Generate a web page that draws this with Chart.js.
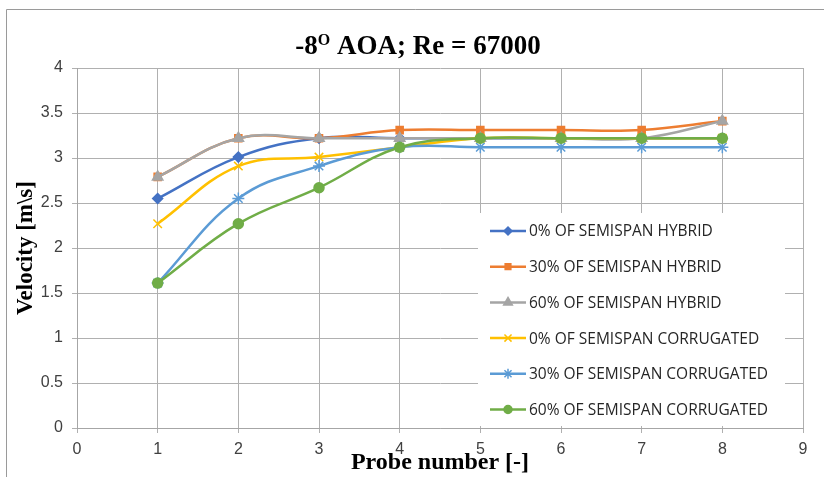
<!DOCTYPE html>
<html>
<head>
<meta charset="utf-8">
<script src="https://cdn.jsdelivr.net/npm/chart.js@4/dist/chart.umd.min.js"></script>
<style>
  html, body { margin: 0; padding: 0; background: #fff; }
  #wrap { width: 824px; height: 477px; position: relative; }
</style>
</head>
<body>
<div id="wrap"><canvas id="velocity-chart"></canvas></div>
<script>
// probe positions along the span
const probes = [1, 2, 3, 4, 5, 6, 7, 8];

// velocity readings [m/s] per configuration
const hybrid0 = [2.55, 3.01, 3.22, 3.22, 3.22, 3.22, 3.22, 3.22];
const hybrid30 = [2.79, 3.22, 3.22, 3.31, 3.31, 3.31, 3.31, 3.41];
const hybrid60 = [2.79, 3.22, 3.22, 3.22, 3.22, 3.22, 3.22, 3.41];
const corrugated0 = [2.27, 2.91, 3.01, 3.12, 3.22, 3.22, 3.22, 3.22];
const corrugated30 = [1.61, 2.55, 2.91, 3.12, 3.12, 3.12, 3.12, 3.12];
const corrugated60 = [1.61, 2.27, 2.67, 3.12, 3.22, 3.22, 3.22, 3.22];

const seriesLabels = [
  '0% OF SEMISPAN HYBRID',
  '30% OF SEMISPAN HYBRID',
  '60% OF SEMISPAN HYBRID',
  '0% OF SEMISPAN CORRUGATED',
  '30% OF SEMISPAN CORRUGATED',
  '60% OF SEMISPAN CORRUGATED'
];

const xTicks = [0, 1, 2, 3, 4, 5, 6, 7, 8, 9];
const yTicks = [0, 0.5, 1, 1.5, 2, 2.5, 3, 3.5, 4];

const seriesValues = [hybrid0, hybrid30, hybrid60, corrugated0, corrugated30, corrugated60];
const colors = ['#4472C4', '#ED7D31', '#A5A5A5', '#FFC000', '#5B9BD5', '#70AD47'];
const markers = ['rectRot', 'rect', 'triangle', 'crossRot', 'star', 'circle'];
const markerSize = [5, 5, 6, 6, 6, 5];

const tickFont = { family: '"Liberation Sans", Arial, sans-serif', size: 16 };
const serif = '"Liberation Serif", "Times New Roman", serif';

// legend box drawn inside the plot area, lower right
const insideLegend = {
  id: 'insideLegend',
  afterDatasetsDraw(chart) {
    const c = chart.ctx;
    const box = { x: 478, y: 213, w: 307, h: 213 };
    c.save();
    c.fillStyle = '#fff';
    c.fillRect(box.x, box.y, box.w, box.h);
    c.font = '15.5px "Open Sans", sans-serif';
    c.textBaseline = 'middle';
    chart.data.datasets.forEach((ds, i) => {
      const y = 231 + i * 35.7;
      c.strokeStyle = ds.borderColor;
      c.lineWidth = 2.5;
      c.beginPath();
      c.moveTo(490, y);
      c.lineTo(526, y);
      c.stroke();
      c.fillStyle = ds.backgroundColor;
      c.lineWidth = 1.5;
      Chart.helpers.drawPoint(c, {
        pointStyle: ds.pointStyle,
        radius: ds.pointRadius - 1,
        borderWidth: 1.5
      }, 508, y);
      c.fillStyle = '#262626';
      c.fillText(ds.label, 529, y + 1);
    });
    c.restore();
  }
};

// chart heading with a raised "O" after the angle
const heading = {
  id: 'heading',
  afterDraw(chart) {
    const c = chart.ctx;
    const parts = [
      { t: '-8', size: 27, dy: 0 },
      { t: 'O', size: 16, dy: -9 },
      { t: ' AOA; Re = 67000', size: 27, dy: 0 }
    ];
    c.save();
    c.fillStyle = '#000';
    c.textBaseline = 'alphabetic';
    let total = 0;
    parts.forEach(p => {
      c.font = 'bold ' + p.size + 'px ' + serif;
      p.w = c.measureText(p.t).width;
      total += p.w;
    });
    let x = 418 - total / 2;
    parts.forEach(p => {
      c.font = 'bold ' + p.size + 'px ' + serif;
      c.fillText(p.t, x, 54 + p.dy);
      x += p.w;
    });
    c.restore();
  }
};

// thin frame around the whole chart
const chartFrame = {
  id: 'chartFrame',
  afterDraw(chart) {
    const c = chart.ctx;
    c.save();
    c.strokeStyle = '#9a9a9a';
    c.lineWidth = 1;
    c.beginPath();
    c.moveTo(6.5, 477);
    c.lineTo(6.5, 9.5);
    c.lineTo(824, 9.5);
    c.stroke();
    c.restore();
  }
};

new Chart(document.getElementById('velocity-chart'), {
  type: 'line',
  data: {
    datasets: seriesValues.map((vals, i) => ({
      label: seriesLabels[i],
      data: probes.map((p, k) => ({ x: p, y: vals[k] })),
      borderColor: colors[i],
      backgroundColor: colors[i],
      borderWidth: 2.5,
      tension: 0.4,
      pointStyle: markers[i],
      pointRadius: markerSize[i],
      pointBorderColor: colors[i],
      pointBackgroundColor: colors[i],
      pointBorderWidth: 1.5,
      order: seriesValues.length - i
    }))
  },
  options: {
    responsive: true,
    maintainAspectRatio: false,
    animation: false,
    layout: { padding: { left: 6, top: 68, right: 21, bottom: 0 } },
    plugins: {
      legend: { display: false },
      tooltip: { enabled: false },
      title: { display: false }
    },
    scales: {
      x: {
        type: 'linear',
        min: 0,
        max: 9,
        afterBuildTicks: (s) => { s.ticks = xTicks.map(v => ({ value: v })); },
        afterFit: (s) => { s.height = 49; },
        ticks: { color: '#404040', font: tickFont, padding: 7 },
        grid: { color: '#b0b0b0', tickLength: 5, lineWidth: 1 },
        border: { color: '#a6a6a6' },
        title: {
          display: true,
          text: 'Probe number [-]',
          color: '#000',
          font: { family: serif, weight: 'bold', size: 24 },
          padding: { top: 0, bottom: 0 }
        }
      },
      y: {
        min: 0,
        max: 4,
        afterBuildTicks: (s) => { s.ticks = yTicks.map(v => ({ value: v })); },
        afterFit: (s) => { s.width = 71; },
        ticks: { color: '#404040', font: tickFont, padding: 9, callback: (v) => String(v) },
        grid: { color: '#b0b0b0', tickLength: 5, lineWidth: 1 },
        border: { color: '#a6a6a6' },
        title: {
          display: true,
          text: 'Velocity [m\\s]',
          color: '#000',
          font: { family: serif, weight: 'bold', size: 23 },
          padding: { top: 6, bottom: 0 }
        }
      }
    }
  },
  plugins: [insideLegend, heading, chartFrame]
});
</script>
</body>
</html>
